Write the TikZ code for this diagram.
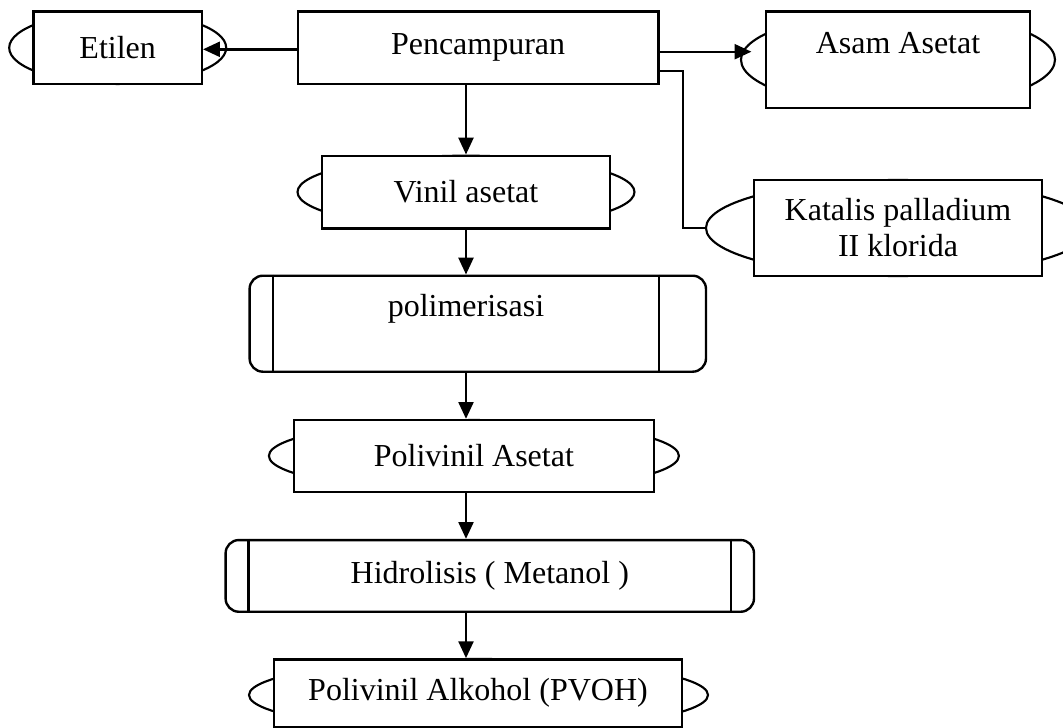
\documentclass[tikz,border=0pt]{standalone}
\usepackage{fontspec}
\setmainfont{Liberation Serif}
\usetikzlibrary{arrows.meta,calc,shapes.geometric}
\newdimen\pxu \pxu=0.375pt
\begin{document}
\begin{tikzpicture}[x=0.375pt,y=-0.375pt,line width=0.9pt,
  box/.style={draw, fill=white, rectangle, inner sep=0pt, line width=0.9pt,
    font=\fontsize{12}{13.5}\selectfont, align=center},
  lens/.style={draw, ellipse, inner sep=0pt, line width=0.8pt},
  lbl/.style={inner sep=0pt, font=\fontsize{12}{13.5}\selectfont},
  arr/.style={-{Triangle[length=6.3pt,width=5.6pt]}, line width=0.9pt}]
\useasboundingbox (0,0) rectangle (1063,728);
% Etilen
\node[lens, minimum width=217\pxu, minimum height=72.3\pxu] (etiE) at (117.7,47.8) {};
\node[box, minimum width=168.3\pxu, minimum height=72.3\pxu] (eti) at (117.7,47.8) {Etilen};
% Pencampuran
\node[box, minimum width=360.6\pxu, minimum height=72.3\pxu] (pen) at (478.1,47.8) {Pencampuran};
% Asam Asetat
\node[lens, minimum width=314\pxu, minimum height=96\pxu] (asamE) at (898,59.7) {};
\node[box, minimum width=264\pxu, minimum height=96\pxu] (asam) at (898,59.7) {};
\node[lbl, anchor=base] (asamT) at (898,53.3) {Asam Asetat};
% Katalis
\node[lens, minimum width=384\pxu, minimum height=96\pxu] (katE) at (898,228) {};
\node[box, minimum width=288\pxu, minimum height=96\pxu] (kat) at (898,228) {Katalis palladium\\II klorida};
% Vinil asetat
\node[lens, minimum width=337\pxu, minimum height=72.6\pxu] (vinE) at (466,192) {};
\node[box, minimum width=288.3\pxu, minimum height=72.6\pxu] (vin) at (466,192) {Vinil asetat};
% polimerisasi
\node[box, rounded corners=5pt, minimum width=456.4\pxu, minimum height=96\pxu] (pol) at (477.8,323.7) {};
\draw ($(pol.north west)+(24.4,0)$) -- ($(pol.south west)+(24.4,0)$);
\draw ($(pol.north east)+(-48,0)$) -- ($(pol.south east)+(-48,0)$);
\node[lbl, anchor=base] (polT) at (466,316.7) {polimerisasi};
% Polivinil Asetat
\node[lens, minimum width=410\pxu, minimum height=71.7\pxu] (pvaE) at (473.9,455.9) {};
\node[box, minimum width=360.3\pxu, minimum height=71.7\pxu] (pva) at (473.9,455.9) {Polivinil Asetat};
% Hidrolisis
\node[box, rounded corners=5pt, minimum width=528.4\pxu, minimum height=71.7\pxu] (hid) at (489.8,575.9) {Hidrolisis ( Metanol )};
\draw ($(hid.north west)+(24,0)$) -- ($(hid.south west)+(24,0)$);
\draw ($(hid.north east)+(-24,0)$) -- ($(hid.south east)+(-24,0)$);
% PVOH
\node[lens, minimum width=459\pxu, minimum height=72\pxu] (pvohE) at (478.5,695) {};
\node[box, minimum width=408.5\pxu, minimum height=67.7\pxu] (pvoh) at (478,693.2) {Polivinil Alkohol (PVOH)};
% connectors
\coordinate (ax) at (466,0);
\draw[arr] (pen.south -| ax) -- (vin.north -| ax);
\draw[arr] (vin.south -| ax) -- (pol.north -| ax);
\draw[arr] (pol.south -| ax) -- (pva.north -| ax);
\draw[arr] (pva.south -| ax) -- (hid.north -| ax);
\draw[arr] (hid.south -| ax) -- (pvoh.north -| ax);
\draw[arr] ([yshift=-1.5\pxu]pen.west) -- ([yshift=-1.5\pxu]eti.east);
\coordinate (asIn) at ($(asamE.west)+(11.5,-8)$);
\draw[arr] (pen.east |- asIn) -- (asIn);
\draw ($(pen.east)+(0,22.9)$) -- ++(23.3,0) |- (katE.west);
\end{tikzpicture}
\end{document}
